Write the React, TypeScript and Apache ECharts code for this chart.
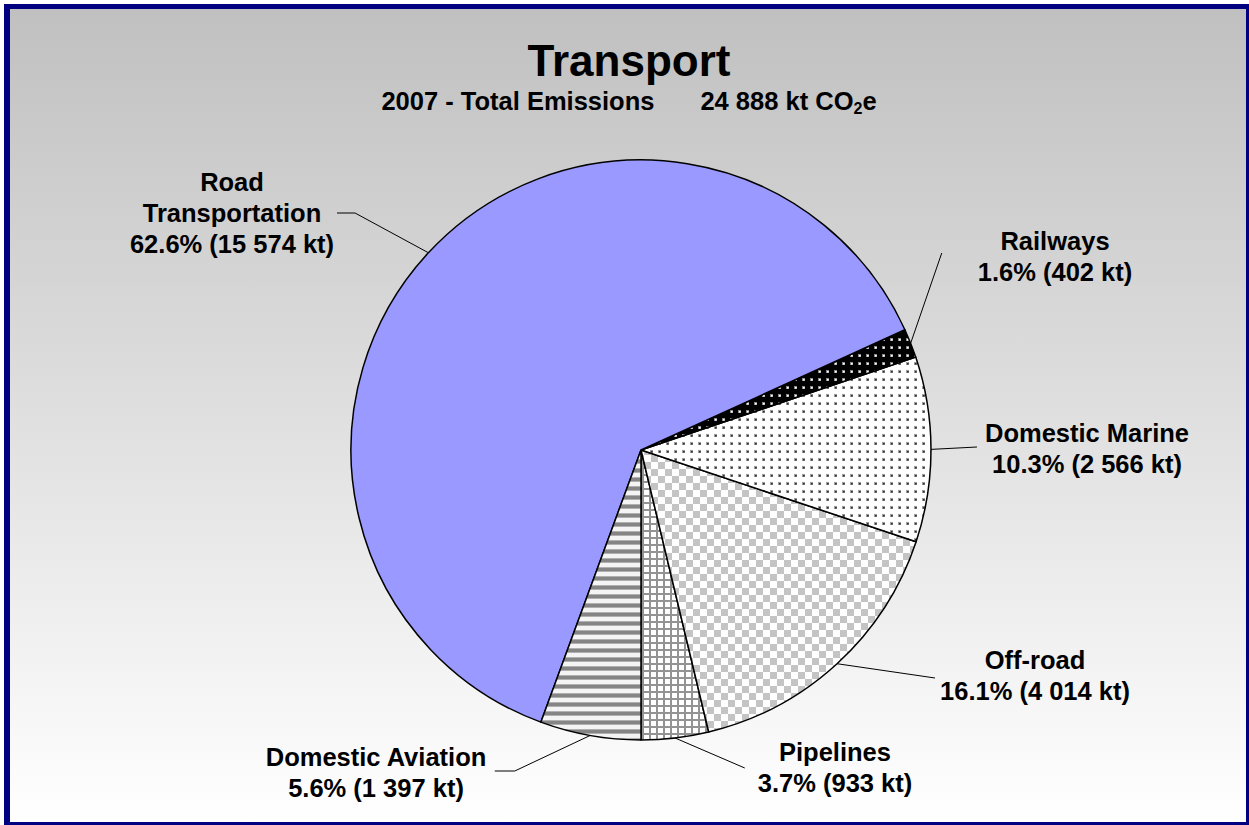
import React, { useEffect, useRef } from 'react';
import * as echarts from 'echarts';

// ---- data ----
const categories = ['Pipelines', 'Off-road', 'Domestic Marine', 'Railways', 'Road Transportation', 'Domestic Aviation'];
const emissionsKt = [933, 4014, 2566, 402, 15574, 1397];
const titleText = 'Transport';
const yearText = '2007 - Total Emissions';
const totalText = '24 888 kt CO';

// ---- layout of the labels (centre of each label block and how the leader attaches) ----
const labelPlacement: Record<string, { x: number; y: number; side: 'left' | 'right'; gap: number; dy?: number; bend?: number }> = {
  'Pipelines': { x: 835, y: 767, side: 'left', gap: 13, dy: 1 },
  'Off-road': { x: 1035, y: 675, side: 'left', gap: 5, dy: 3 },
  'Domestic Marine': { x: 1087, y: 448, side: 'left', gap: 8, dy: -1 },
  'Railways': { x: 1055, y: 256, side: 'left', gap: 36, dy: -3 },
  'Road Transportation': { x: 232, y: 213, side: 'right', gap: 3, bend: 18 },
  'Domestic Aviation': { x: 376, y: 772, side: 'right', gap: 8, bend: 20, dy: -1 },
};

const FONT = '"Liberation Sans", Arial, Helvetica, sans-serif';

function fmtKt(v: number) {
  return String(v).replace(/\B(?=(\d{3})+(?!\d))/g, ' ');
}

function makePattern(w: number, h: number, draw: (ctx: CanvasRenderingContext2D) => void) {
  const c = document.createElement('canvas');
  c.width = w;
  c.height = h;
  const ctx = c.getContext('2d') as CanvasRenderingContext2D;
  draw(ctx);
  return { image: c.toDataURL(), repeat: 'repeat', imageWidth: w, imageHeight: h };
}

function buildPatterns() {
  const pipelines = makePattern(7, 7, (ctx) => {
    ctx.fillStyle = '#ffffff';
    ctx.fillRect(0, 0, 7, 7);
    ctx.fillStyle = '#939393';
    ctx.fillRect(5, 0, 2, 7);
    ctx.fillRect(0, 5, 7, 2);
  });
  const offroad = makePattern(14, 14, (ctx) => {
    ctx.fillStyle = '#ffffff';
    ctx.fillRect(0, 0, 14, 14);
    ctx.fillStyle = '#c4c4c4';
    ctx.fillRect(0, 0, 7, 7);
    ctx.fillRect(7, 7, 7, 7);
  });
  const marine = makePattern(8, 8, (ctx) => {
    ctx.fillStyle = '#ffffff';
    ctx.fillRect(0, 0, 8, 8);
    ctx.fillStyle = '#9a9a9a';
    ctx.fillRect(2, 2, 3, 3);
    ctx.fillStyle = '#303030';
    ctx.fillRect(3, 3, 1.6, 1.6);
  });
  const railways = makePattern(8, 8, (ctx) => {
    ctx.fillStyle = '#000000';
    ctx.fillRect(0, 0, 8, 8);
    ctx.fillStyle = '#8a8a8a';
    ctx.fillRect(2, 2, 3, 3);
    ctx.fillStyle = '#ffffff';
    ctx.fillRect(3, 3, 1.6, 1.6);
  });
  const aviation = makePattern(4, 9, (ctx) => {
    ctx.fillStyle = '#f4f4f4';
    ctx.fillRect(0, 0, 4, 9);
    ctx.fillStyle = '#b0b0b0';
    ctx.fillRect(0, 0, 4, 1);
    ctx.fillRect(0, 4, 4, 1);
    ctx.fillStyle = '#858585';
    ctx.fillRect(0, 1, 4, 3);
  });
  return {
    'Pipelines': pipelines,
    'Off-road': offroad,
    'Domestic Marine': marine,
    'Railways': railways,
    'Road Transportation': '#9999FF',
    'Domestic Aviation': aviation,
  } as Record<string, any>;
}

export default function App() {
  const ref = useRef<HTMLDivElement>(null);

  useEffect(() => {
    if (!ref.current) return;
    const chart = echarts.init(ref.current, null, { renderer: 'svg' });
    const patterns = buildPatterns();
    const total = emissionsKt.reduce((a, b) => a + b, 0);

    const option: any = {
      animation: false,
      backgroundColor: 'transparent',
      graphic: [
        {
          type: 'text',
          x: 629,
          y: 60,
          silent: true,
          style: {
            text: titleText,
            font: `bold 44px ${FONT}`,
            fill: '#000',
            textAlign: 'center',
            textVerticalAlign: 'middle',
          },
        },
        {
          type: 'text',
          x: 629,
          y: 101,
          silent: true,
          style: {
            text: `{a|${yearText}}{g| }{a|${totalText}}{s|2}{a|e}`,
            textAlign: 'center',
            textVerticalAlign: 'middle',
            rich: {
              a: { fontFamily: FONT, fontWeight: 'bold', fontSize: 25.5, lineHeight: 30, fill: '#000', color: '#000' },
              g: { fontFamily: FONT, fontSize: 25.5, lineHeight: 30, width: 46 },
              s: { fontFamily: FONT, fontWeight: 'bold', fontSize: 16, lineHeight: 16, verticalAlign: 'bottom', fill: '#000', color: '#000' },
            },
          },
        },
      ],
      series: [
        {
          type: 'pie',
          center: [641, 450],
          radius: 290,
          startAngle: 270,
          clockwise: false,
          avoidLabelOverlap: false,
          silent: true,
          emphasis: { disabled: true },
          data: categories.map((name, i) => ({
            name,
            value: emissionsKt[i],
            itemStyle: { color: patterns[name] },
          })),
          itemStyle: { borderColor: '#000', borderWidth: 1.5 },
          label: {
            show: true,
            position: 'outside',
            fontFamily: FONT,
            fontWeight: 'bold',
            fontSize: 25.5,
            lineHeight: 31,
            color: '#000',
            align: 'center',
            formatter: (p: any) => {
              const name = p.name === 'Road Transportation' ? 'Road\nTransportation' : p.name;
              const pct = ((p.value / total) * 100).toFixed(1);
              return `${name}\n${pct}% (${fmtKt(p.value)} kt)`;
            },
          },
          labelLine: {
            show: true,
            length: 10,
            length2: 10,
            lineStyle: { color: '#000', width: 1 },
          },
          labelLayout: (params: any) => {
            const name = categories[params.dataIndex];
            const pl = labelPlacement[name];
            const w = params.labelRect.width;
            const ey = pl.y + (pl.dy || 0);
            const ex = pl.side === 'left' ? pl.x - w / 2 - pl.gap : pl.x + w / 2 + pl.gap;
            const pts: number[][] = [];
            if (params.labelLinePoints && params.labelLinePoints[0]) pts.push(params.labelLinePoints[0]);
            if (pl.bend) pts.push([ex + (pl.side === 'left' ? -pl.bend : pl.bend), ey]);
            pts.push([ex, ey]);
            return {
              x: pl.x,
              y: pl.y,
              align: 'center',
              verticalAlign: 'middle',
              labelLinePoints: pts,
            };
          },
        },
      ],
    };

    chart.setOption(option);
    return () => chart.dispose();
  }, []);

  return (
    <div style={{ position: 'fixed', left: 0, top: 0, width: 1249, height: 825, background: '#ffffff', overflow: 'hidden' }}>
      <div
        style={{
          position: 'absolute',
          left: 4,
          top: 4,
          width: 1245,
          height: 821,
          boxSizing: 'border-box',
          borderStyle: 'solid',
          borderColor: '#000080',
          borderWidth: '5px 3px 3px 6px',
          background: 'linear-gradient(to bottom, #c0c0c0, #ffffff)',
        }}
      />
      <div ref={ref} style={{ position: 'absolute', left: 0, top: 0, width: 1249, height: 825 }} />
    </div>
  );
}
